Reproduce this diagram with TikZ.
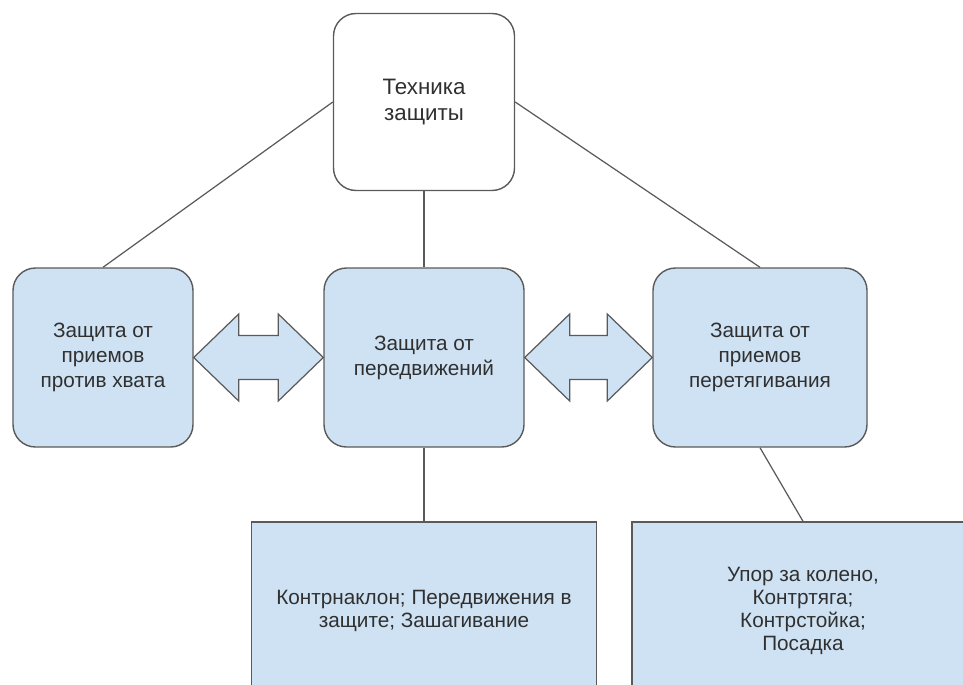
\documentclass[tikz,border=0pt]{standalone}
\usepackage{fontspec}
\setmainfont{Liberation Sans}
\usetikzlibrary{calc}
\definecolor{boxfill}{HTML}{CFE2F3}
\definecolor{boxline}{HTML}{5A5A5A}
\definecolor{boxtext}{HTML}{303030}
\newcommand{\dblarrow}[2]{%
  \draw[arrowshape] (#1) -- ++(0.9,0.87) -- ++(0,-0.43) -- ($(#2)+(-0.9,0.44)$)
    -- ++(0,0.43) -- (#2) -- ++(-0.9,-0.87) -- ++(0,0.43)
    -- ($(#1)+(0.9,-0.44)$) -- ++(0,-0.43) -- cycle;}
\begin{document}
\begin{tikzpicture}[
    font=\fontsize{11.8}{14.2}\selectfont, text=boxtext,
    conn/.style={draw=boxline, line width=0.7pt},
    topbox/.style={draw=boxline, line width=0.8pt, rounded corners=0.45cm, align=center,
      minimum height=3.54cm, minimum width=3.62cm},
    midbox/.style={topbox, fill=boxfill, minimum height=3.58cm},
    leafbox/.style={draw=boxline, line width=0.8pt, fill=boxfill, align=center, minimum height=3.56cm,
      font=\fontsize{11.8}{13.2}\selectfont},
    arrowshape/.style={draw=boxline, line width=0.7pt, fill=boxfill, line join=miter}]
  \useasboundingbox (0,0) rectangle (19.26,-13.68);
  \clip (0,0) rectangle (19.26,-13.68);
  \node[topbox, font=\fontsize{12.7}{15.3}\selectfont] (tech) at (8.48,-2.04) {Техника\\защиты};
  \node[midbox, minimum width=3.60cm] (grip) at (2.06,-7.15) {Защита от\\приемов\\против хвата};
  \node[midbox, minimum width=4.00cm] (move) at (8.48,-7.15) {Защита от\\передвижений};
  \node[midbox, minimum width=4.28cm] (pull) at (15.20,-7.15) {Защита от\\приемов\\перетягивания};
  \node[leafbox, minimum width=6.90cm] (movelist) at (8.48,-12.22) {Контрнаклон; Передвижения в\\защите; Зашагивание};
  \node[leafbox, minimum width=6.84cm] (pulllist) at (16.06,-12.22) {Упор за колено,\\Контртяга;\\Контрстойка;\\Посадка};
  % links
  \draw[conn] (tech.west) -- (grip.north);
  \draw[conn] (tech.south) -- (move.north);
  \draw[conn] (tech.east) -- (pull.north);
  \draw[conn] (move.south) -- (movelist.north);
  \draw[conn] (pull.south) -- (pulllist.north);
  % double arrows
  \dblarrow{grip.east}{move.west}
  \dblarrow{move.east}{pull.west}
\end{tikzpicture}
\end{document}
